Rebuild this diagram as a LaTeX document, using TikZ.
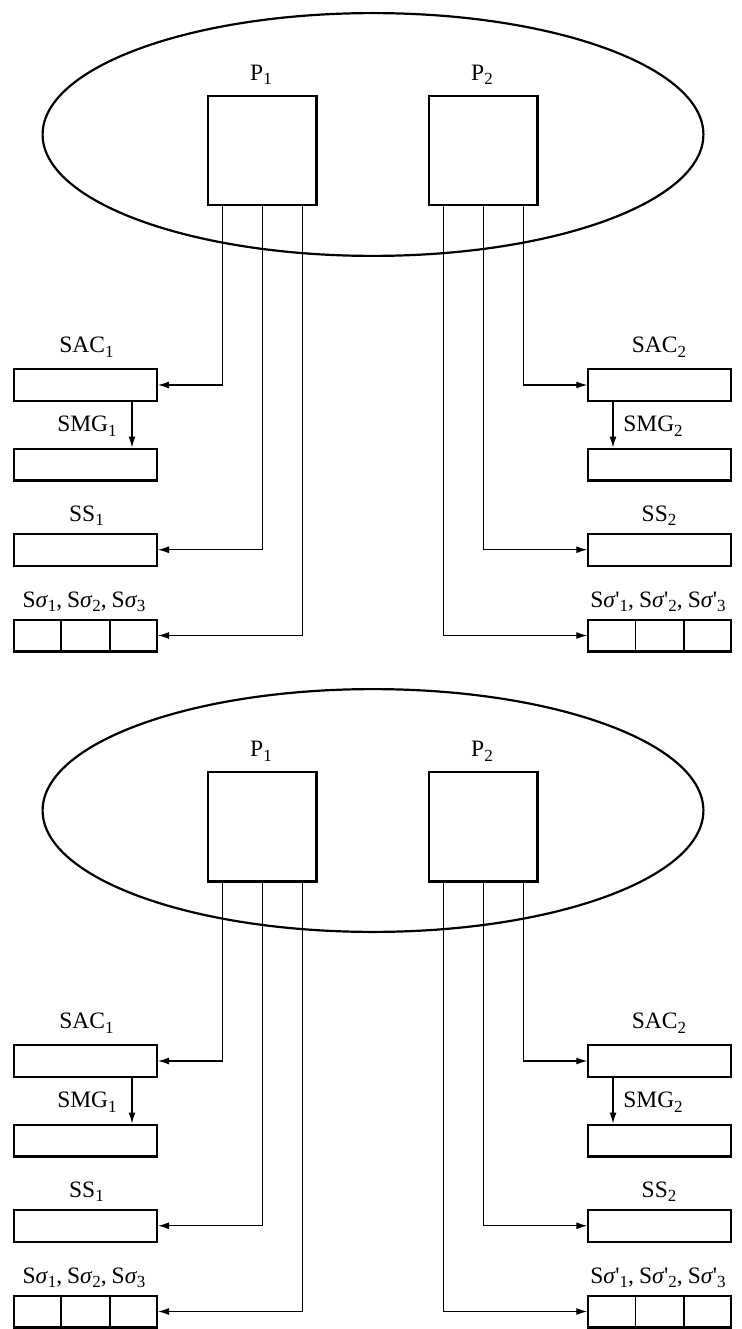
\documentclass[tikz,border=0pt]{standalone}
\usepackage{fontspec}
\setmainfont{Liberation Serif}
\usetikzlibrary{arrows.meta,calc}
\newcommand{\sbs}[1]{\raisebox{-4.5pt}{\fontsize{17}{17}\selectfont #1}}
\newcommand{\sgm}[1]{S{\itshape σ}\kern0.5pt\sbs{#1}}
\newcommand{\sgp}[1]{S{\itshape σ}\kern0.5pt\textquotesingle\sbs{#1}}
\begin{document}
\begin{tikzpicture}[x=1pt,y=-1pt,
  box/.style={draw,line width=2.2pt,minimum width=142.8pt,minimum height=31.8pt,inner sep=0pt},
  pbox/.style={draw,line width=2.2pt,minimum width=108.3pt,minimum height=109.3pt,inner sep=0pt},
  lbl/.style={anchor=base,inner sep=0pt,font=\fontsize{23.5}{28}\selectfont},
  conn/.style={line width=1.2pt,-{Latex[length=11pt,width=7pt]}},
  cell/.style={line width=1.7pt},
  oval/.style={line width=2.2pt}]
\useasboundingbox (0,0) rectangle (741,1329);
\foreach \s/\off in {a/0,b/676}{
\begin{scope}[yshift=-\off pt]
  \draw[oval] (373,134.5) ellipse [x radius=330.4, y radius=121.4];
  \node[pbox] (P1\s) at (262.25,150.75) {};
  \node[pbox] (P2\s) at (483.25,150.75) {};
  \node[lbl] (LP1\s) at (261,80.5) {P\sbs{1}};
  \node[lbl] (LP2\s) at (482,80.5) {P\sbs{2}};
  % left column
  \node[box] (SAC1\s) at (85.5,385) {};
  \node[box] (SMG1\s) at (85.5,464.5) {};
  \node[box] (SS1\s) at (85.5,549.75) {};
  \node[box] (SG1\s) at (85.5,635.5) {};
  \node[lbl] (LSAC1\s) at (86.5,352.5) {SAC\sbs{1}};
  \node[lbl] (LSMG1\s) at (87,431.5) {SMG\sbs{1}};
  \node[lbl] (LSS1\s) at (86.5,521) {SS\sbs{1}};
  \node[lbl] (LSG1\s) at (84,607) {\sgm{1},\hspace{5pt}\sgm{2},\hspace{5pt}\sgm{3}};
  % right column
  \node[box] (SAC2\s) at (659.75,385) {};
  \node[box] (SMG2\s) at (659.75,464.5) {};
  \node[box] (SS2\s) at (659.75,549.75) {};
  \node[box] (SG2\s) at (659.75,635.5) {};
  \node[lbl] (LSAC2\s) at (659,352.5) {SAC\sbs{2}};
  \node[lbl] (LSMG2\s) at (653,431.5) {SMG\sbs{2}};
  \node[lbl] (LSS2\s) at (659,521) {SS\sbs{2}};
  \node[lbl] (LSG2\s) at (658,607) {\sgp{1},\hspace{5pt}\sgp{2},\hspace{5pt}\sgp{3}};
  % cells
  \draw[cell] ($(SG1\s.north west)!1/3!(SG1\s.north east)$) -- ($(SG1\s.south west)!1/3!(SG1\s.south east)$);
  \draw[cell] ($(SG1\s.north west)!2/3!(SG1\s.north east)$) -- ($(SG1\s.south west)!2/3!(SG1\s.south east)$);
  \draw[cell] ($(SG2\s.north west)!1/3!(SG2\s.north east)$) -- ($(SG2\s.south west)!1/3!(SG2\s.south east)$);
  \draw[cell] ($(SG2\s.north west)!2/3!(SG2\s.north east)$) -- ($(SG2\s.south west)!2/3!(SG2\s.south east)$);
  % connectors
  \draw[conn] ([xshift=-40pt]P1\s.south) |- (SAC1\s.east);
  \draw[conn] (P1\s.south) |- (SS1\s.east);
  \draw[conn] ([xshift=40pt]P1\s.south) |- (SG1\s.east);
  \draw[conn] ([xshift=40pt]P2\s.south) |- (SAC2\s.west);
  \draw[conn] (P2\s.south) |- (SS2\s.west);
  \draw[conn] ([xshift=-40pt]P2\s.south) |- (SG2\s.west);
  \draw[conn] ([xshift=46.5pt]SAC1\s.south) -- ([xshift=46.5pt]SMG1\s.north);
  \draw[conn] ([xshift=-46.75pt]SAC2\s.south) -- ([xshift=-46.75pt]SMG2\s.north);
\end{scope}
}
\end{tikzpicture}
\end{document}
